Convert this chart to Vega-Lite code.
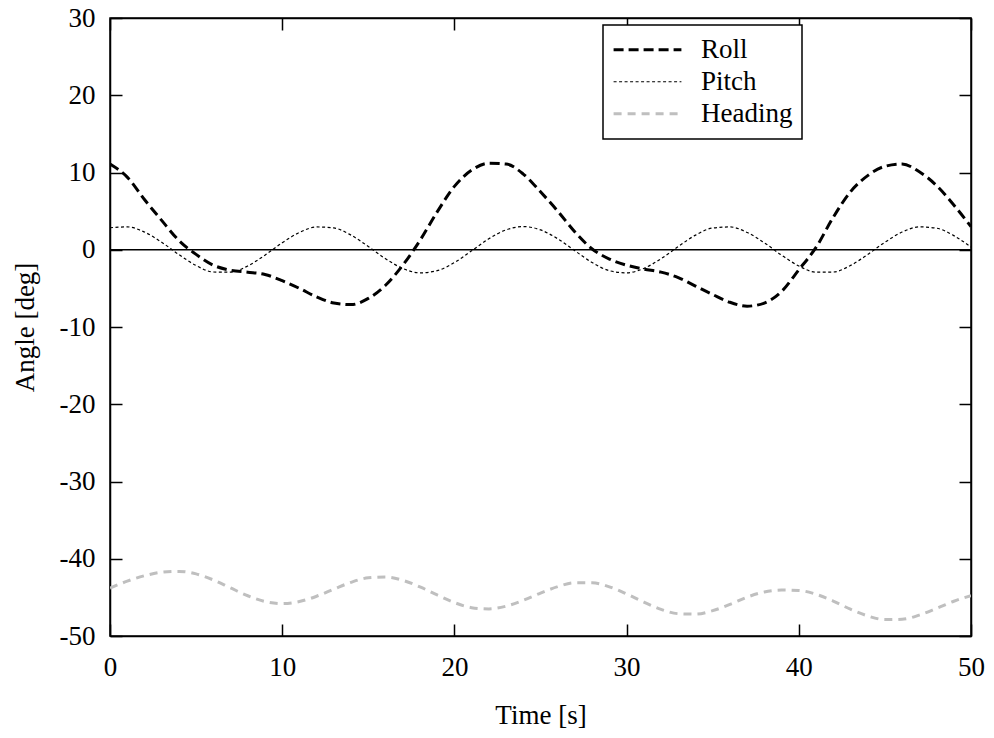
{
  "$schema": "https://vega.github.io/schema/vega-lite/v6.json",
  "width": 861,
  "height": 618,
  "autosize": {"type": "none"},
  "padding": {"left": 110, "top": 18, "right": 23, "bottom": 102},
  "background": "white",
  "config": {
    "font": "Liberation Serif",
    "view": {"stroke": "black", "strokeWidth": 1.5},
    "axis": {
      "labelFont": "Liberation Serif", "labelFontSize": 27, "labelColor": "black",
      "titleFont": "Liberation Serif", "titleFontSize": 27, "titleFontWeight": "normal", "titleColor": "black",
      "domainColor": "black", "domainWidth": 1.5,
      "tickColor": "black", "tickWidth": 1.5, "tickSize": -12,
      "labelFlush": false, "labelOverlap": false,
      "grid": false
    },
    "legend": {
      "orient": "none", "legendX": 493, "legendY": 7,
      "strokeColor": "black", "strokeWidth": 1.5, "fillColor": "white", "padding": 9,
      "symbolType": "stroke", "symbolSize": 4600, "clipHeight": 31.5, "rowPadding": 0,
      "labelFont": "Liberation Serif", "labelFontSize": 27, "labelColor": "black", "labelOffset": 18,
      "title": null
    }
  },
  "datasets": {
    "series": [
      {"t":0,"series":"Roll","v":11.1},{"t":1,"series":"Roll","v":9.4},{"t":2,"series":"Roll","v":6.5},{"t":3,"series":"Roll","v":3.8},{"t":4,"series":"Roll","v":1.2},{"t":5,"series":"Roll","v":-0.6},{"t":6,"series":"Roll","v":-2.0},{"t":7,"series":"Roll","v":-2.65},{"t":8,"series":"Roll","v":-2.9},{"t":9,"series":"Roll","v":-3.2},{"t":10,"series":"Roll","v":-4.0},{"t":11,"series":"Roll","v":-5.0},{"t":12,"series":"Roll","v":-6.1},{"t":13,"series":"Roll","v":-6.9},{"t":14,"series":"Roll","v":-7.1},{"t":15,"series":"Roll","v":-6.3},{"t":16,"series":"Roll","v":-4.6},{"t":17,"series":"Roll","v":-2.0},{"t":18,"series":"Roll","v":1.2},{"t":19,"series":"Roll","v":4.9},{"t":20,"series":"Roll","v":8.2},{"t":21,"series":"Roll","v":10.3},{"t":22,"series":"Roll","v":11.2},{"t":23,"series":"Roll","v":11.1},{"t":24,"series":"Roll","v":9.8},{"t":25,"series":"Roll","v":7.5},{"t":26,"series":"Roll","v":5.0},{"t":27,"series":"Roll","v":2.3},{"t":28,"series":"Roll","v":0.1},{"t":29,"series":"Roll","v":-1.2},{"t":30,"series":"Roll","v":-2.0},{"t":31,"series":"Roll","v":-2.5},{"t":32,"series":"Roll","v":-2.9},{"t":33,"series":"Roll","v":-3.6},{"t":34,"series":"Roll","v":-4.7},{"t":35,"series":"Roll","v":-5.8},{"t":36,"series":"Roll","v":-6.8},{"t":37,"series":"Roll","v":-7.3},{"t":38,"series":"Roll","v":-6.9},{"t":39,"series":"Roll","v":-5.4},{"t":40,"series":"Roll","v":-2.6},{"t":41,"series":"Roll","v":0.3},{"t":42,"series":"Roll","v":4.2},{"t":43,"series":"Roll","v":7.5},{"t":44,"series":"Roll","v":9.6},{"t":45,"series":"Roll","v":10.8},{"t":46,"series":"Roll","v":11.1},{"t":47,"series":"Roll","v":10.1},{"t":48,"series":"Roll","v":8.3},{"t":49,"series":"Roll","v":5.8},{"t":50,"series":"Roll","v":3.0},
      {"t":0,"series":"Pitch","v":2.85},{"t":1,"series":"Pitch","v":2.96},{"t":2,"series":"Pitch","v":2.29},{"t":3,"series":"Pitch","v":0.97},{"t":4,"series":"Pitch","v":-0.62},{"t":5,"series":"Pitch","v":-2.04},{"t":6,"series":"Pitch","v":-2.88},{"t":7,"series":"Pitch","v":-2.9},{"t":8,"series":"Pitch","v":-2.1},{"t":9,"series":"Pitch","v":-0.7},{"t":10,"series":"Pitch","v":0.9},{"t":11,"series":"Pitch","v":2.24},{"t":12,"series":"Pitch","v":2.95},{"t":13,"series":"Pitch","v":2.82},{"t":14,"series":"Pitch","v":1.89},{"t":15,"series":"Pitch","v":0.42},{"t":16,"series":"Pitch","v":-1.16},{"t":17,"series":"Pitch","v":-2.42},{"t":18,"series":"Pitch","v":-2.99},{"t":19,"series":"Pitch","v":-2.71},{"t":20,"series":"Pitch","v":-1.66},{"t":21,"series":"Pitch","v":-0.14},{"t":22,"series":"Pitch","v":1.42},{"t":23,"series":"Pitch","v":2.57},{"t":24,"series":"Pitch","v":3.0},{"t":25,"series":"Pitch","v":2.57},{"t":26,"series":"Pitch","v":1.42},{"t":27,"series":"Pitch","v":-0.14},{"t":28,"series":"Pitch","v":-1.66},{"t":29,"series":"Pitch","v":-2.71},{"t":30,"series":"Pitch","v":-2.99},{"t":31,"series":"Pitch","v":-2.42},{"t":32,"series":"Pitch","v":-1.16},{"t":33,"series":"Pitch","v":0.42},{"t":34,"series":"Pitch","v":1.89},{"t":35,"series":"Pitch","v":2.82},{"t":36,"series":"Pitch","v":2.95},{"t":37,"series":"Pitch","v":2.24},{"t":38,"series":"Pitch","v":0.9},{"t":39,"series":"Pitch","v":-0.7},{"t":40,"series":"Pitch","v":-2.1},{"t":41,"series":"Pitch","v":-2.9},{"t":42,"series":"Pitch","v":-2.88},{"t":43,"series":"Pitch","v":-2.04},{"t":44,"series":"Pitch","v":-0.62},{"t":45,"series":"Pitch","v":0.97},{"t":46,"series":"Pitch","v":2.29},{"t":47,"series":"Pitch","v":2.96},{"t":48,"series":"Pitch","v":2.79},{"t":49,"series":"Pitch","v":1.83},{"t":50,"series":"Pitch","v":0.34},
      {"t":0,"series":"Heading","v":-43.8},{"t":1,"series":"Heading","v":-42.9},{"t":2,"series":"Heading","v":-42.2},{"t":3,"series":"Heading","v":-41.75},{"t":4,"series":"Heading","v":-41.64},{"t":5,"series":"Heading","v":-41.96},{"t":6,"series":"Heading","v":-42.74},{"t":7,"series":"Heading","v":-43.77},{"t":8,"series":"Heading","v":-44.79},{"t":9,"series":"Heading","v":-45.53},{"t":10,"series":"Heading","v":-45.8},{"t":11,"series":"Heading","v":-45.54},{"t":12,"series":"Heading","v":-44.85},{"t":13,"series":"Heading","v":-43.93},{"t":14,"series":"Heading","v":-43.05},{"t":15,"series":"Heading","v":-42.47},{"t":16,"series":"Heading","v":-42.37},{"t":17,"series":"Heading","v":-42.79},{"t":18,"series":"Heading","v":-43.64},{"t":19,"series":"Heading","v":-44.69},{"t":20,"series":"Heading","v":-45.67},{"t":21,"series":"Heading","v":-46.33},{"t":22,"series":"Heading","v":-46.5},{"t":23,"series":"Heading","v":-46.14},{"t":24,"series":"Heading","v":-45.38},{"t":25,"series":"Heading","v":-44.45},{"t":26,"series":"Heading","v":-43.61},{"t":27,"series":"Heading","v":-43.12},{"t":28,"series":"Heading","v":-43.12},{"t":29,"series":"Heading","v":-43.64},{"t":30,"series":"Heading","v":-44.56},{"t":31,"series":"Heading","v":-45.61},{"t":32,"series":"Heading","v":-46.55},{"t":33,"series":"Heading","v":-47.11},{"t":34,"series":"Heading","v":-47.17},{"t":35,"series":"Heading","v":-46.72},{"t":36,"series":"Heading","v":-45.91},{"t":37,"series":"Heading","v":-44.97},{"t":38,"series":"Heading","v":-44.3},{"t":39,"series":"Heading","v":-44.05},{"t":40,"series":"Heading","v":-44.1},{"t":41,"series":"Heading","v":-44.6},{"t":42,"series":"Heading","v":-45.47},{"t":43,"series":"Heading","v":-46.53},{"t":44,"series":"Heading","v":-47.4},{"t":45,"series":"Heading","v":-47.88},{"t":46,"series":"Heading","v":-47.83},{"t":47,"series":"Heading","v":-47.29},{"t":48,"series":"Heading","v":-46.43},{"t":49,"series":"Heading","v":-45.5},{"t":50,"series":"Heading","v":-44.77}
    ],
    "zero": [{"t0": 0, "t1": 50, "v": 0}]
  },
  "layer": [
    {
      "data": {"name": "zero"},
      "mark": {"type": "rule", "color": "black", "strokeWidth": 1.5},
      "encoding": {
        "x": {"field": "t0", "type": "quantitative", "scale": {"domain": [0, 50], "nice": false},
              "axis": {"orient": "top", "labels": false, "title": null, "values": [0, 10, 20, 30, 40, 50]}},
        "x2": {"field": "t1"},
        "y": {"field": "v", "type": "quantitative", "scale": {"domain": [-50, 30], "nice": false},
              "axis": {"orient": "right", "labels": false, "title": null, "values": [-50, -40, -30, -20, -10, 0, 10, 20, 30]}}
      }
    },
    {
      "data": {"name": "series"},
      "mark": {"type": "line", "interpolate": "monotone", "clip": true},
      "encoding": {
        "x": {"field": "t", "type": "quantitative", "scale": {"domain": [0, 50], "nice": false},
              "axis": {"orient": "bottom", "title": "Time [s]", "values": [0, 10, 20, 30, 40, 50], "labelPadding": 30, "labelFlush": false, "labelFont": "Liberation Serif", "titleFont": "Liberation Serif", "labelExpr": "'' + datum.value", "titlePadding": 22}},
        "y": {"field": "v", "type": "quantitative", "scale": {"domain": [-50, 30], "nice": false},
              "axis": {"orient": "left", "title": "Angle [deg]", "values": [-50, -40, -30, -20, -10, 0, 10, 20, 30], "labelPadding": 27, "labelFlush": false, "labelFont": "Liberation Serif", "titleFont": "Liberation Serif", "labelExpr": "'' + datum.value", "titlePadding": 20}},
        "color": {"field": "series", "type": "nominal",
                  "scale": {"domain": ["Roll", "Pitch", "Heading"], "range": ["#000000", "#000000", "#bfbfbf"]},
                  "legend": {"labelFont": "Liberation Serif", "symbolType": "stroke", "symbolSize": 4600,
                             "encode": {"symbols": {"update": {"strokeWidth": {"signal": "(datum.value === 'Pitch' ? 1.2 : 3)"}}}}}},
        "strokeDash": {"field": "series", "type": "nominal",
                  "scale": {"domain": ["Roll", "Pitch", "Heading"], "range": [[10, 5], [3, 2.5], [8, 6]]}},
        "strokeWidth": {"condition": {"test": "datum.series === 'Pitch'", "value": 1.2}, "value": 3}
      }
    }
  ],
  "resolve": {"axis": {"x": "independent", "y": "independent"}}
}
